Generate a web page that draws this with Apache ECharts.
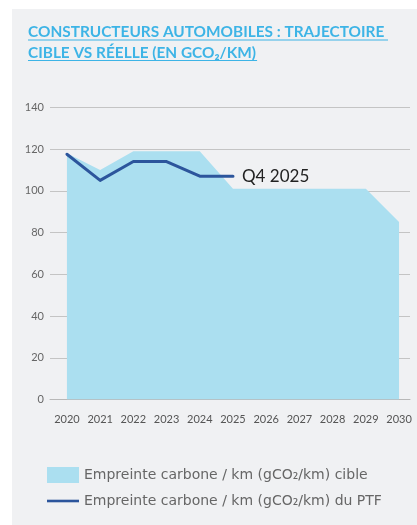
<!DOCTYPE html>
<html>
<head>
<meta charset="utf-8">
<script src="https://cdn.jsdelivr.net/npm/echarts@6/dist/echarts.min.js"></script>
<style>
  html, body { margin: 0; padding: 0; background: #ffffff; }
  #chart { width: 417px; height: 525px; }
</style>
</head>
<body>
<div id="chart"></div>
<script>
// Years on the horizontal axis
const years = [2020, 2021, 2022, 2023, 2024, 2025, 2026, 2027, 2028, 2029, 2030];
// Target trajectory (gCO2/km)
const targetValues = [118, 110, 119, 119, 119, 101, 101, 101, 101, 101, 85];
// Portfolio footprint (gCO2/km), known up to 2025
const portfolioValues = [117.5, 105, 114, 114, 107, 107];
// Y axis ticks
const yTicks = [0, 20, 40, 60, 80, 100, 120, 140];

const titleLines = ['CONSTRUCTEURS AUTOMOBILES : TRAJECTOIRE ', 'CIBLE VS RÉELLE (EN GCO₂/KM)'];
const targetName = 'Empreinte carbone / km (gCO₂/km) cible';
const portfolioName = 'Empreinte carbone / km (gCO₂/km) du PTF';
const endLabelText = 'Q4 2025';

const targetData = years.map((y, i) => [y, targetValues[i]]);
const portfolioData = portfolioValues.map((v, i) => [years[i], v]);

const chart = echarts.init(document.getElementById('chart'), null, { renderer: 'canvas' });

const titleColor = '#3db4e6';
const titleFont = { fontFamily: 'Lato', fontWeight: 'bold', fontSize: 15.4 };

// Width of a title line, so each underline ends where its text ends
function titleWidth(text) {
  const ctx = document.createElement('canvas').getContext('2d');
  ctx.font = titleFont.fontWeight + ' ' + titleFont.fontSize + 'px ' + titleFont.fontFamily;
  return ctx.measureText(text).width;
}
const titleX = 28;
const w1 = titleWidth(titleLines[0]);
const w2 = titleWidth(titleLines[1]);

chart.setOption({
  backgroundColor: '#ffffff',
  animation: false,
  graphic: [
    { type: 'rect', left: 12, top: 9, shape: { width: 405, height: 516 }, style: { fill: '#f0f1f3' }, z: -10 },
    { type: 'text', left: titleX, top: 24.5, style: Object.assign({ text: titleLines[0], fill: titleColor }, titleFont) },
    { type: 'line', shape: { x1: titleX, y1: 40, x2: titleX + w1, y2: 40 }, style: { stroke: titleColor, lineWidth: 1.2 } },
    { type: 'text', left: titleX, top: 45.5, style: Object.assign({ text: titleLines[1], fill: titleColor }, titleFont) },
    { type: 'line', shape: { x1: titleX, y1: 60.5, x2: titleX + w2 + 1, y2: 60.5 }, style: { stroke: titleColor, lineWidth: 1.2 } }
  ],
  grid: { left: 50, right: 7, top: 107.3, bottom: 125.5, containLabel: false },
  legend: {
    orient: 'vertical',
    left: 47,
    top: 467,
    padding: 0,
    itemWidth: 32,
    itemHeight: 16,
    itemGap: 10,
    itemTextGap: 7,
    symbolKeepAspect: true,
    textStyle: { color: '#666666', fontSize: 14, lineHeight: 16, fontFamily: 'DejaVu Sans' },
    data: [
      { name: targetName, icon: 'rect' },
      { name: portfolioName, icon: 'path://M0,0 L32,0 L32,2.6 L0,2.6 Z' }
    ]
  },
  xAxis: {
    type: 'value',
    min: 2019.49,
    max: 2030.33,
    splitLine: { show: false },
    axisTick: { show: false },
    axisLine: { show: true, lineStyle: { color: '#b8b8b8', width: 1 } },
    axisLabel: {
      customValues: years,
      formatter: v => String(v),
      color: '#555555',
      fontSize: 11,
      fontFamily: 'Lato',
      margin: 14
    }
  },
  yAxis: {
    type: 'value',
    min: yTicks[0],
    max: yTicks[yTicks.length - 1],
    interval: 20,
    axisLine: { show: false },
    axisTick: { show: false },
    splitLine: { lineStyle: { color: '#c4c4c4', width: 1 } },
    axisLabel: { color: '#666666', fontSize: 11, fontFamily: 'Lato', margin: 6 }
  },
  series: [
    {
      name: targetName,
      type: 'line',
      data: targetData,
      symbol: 'none',
      color: '#abdff0',
      lineStyle: { width: 0 },
      areaStyle: { color: '#abdff0', opacity: 1 },
      z: 1
    },
    {
      name: portfolioName,
      type: 'line',
      data: portfolioData,
      symbol: 'none',
      color: '#2c559c',
      lineStyle: { width: 3, color: '#2c559c', cap: 'round', join: 'round' },
      endLabel: {
        show: true,
        formatter: () => endLabelText,
        color: '#222222',
        fontSize: 17,
        fontFamily: 'Lato',
        distance: 9
      },
      z: 3
    }
  ]
});
</script>
</body>
</html>
